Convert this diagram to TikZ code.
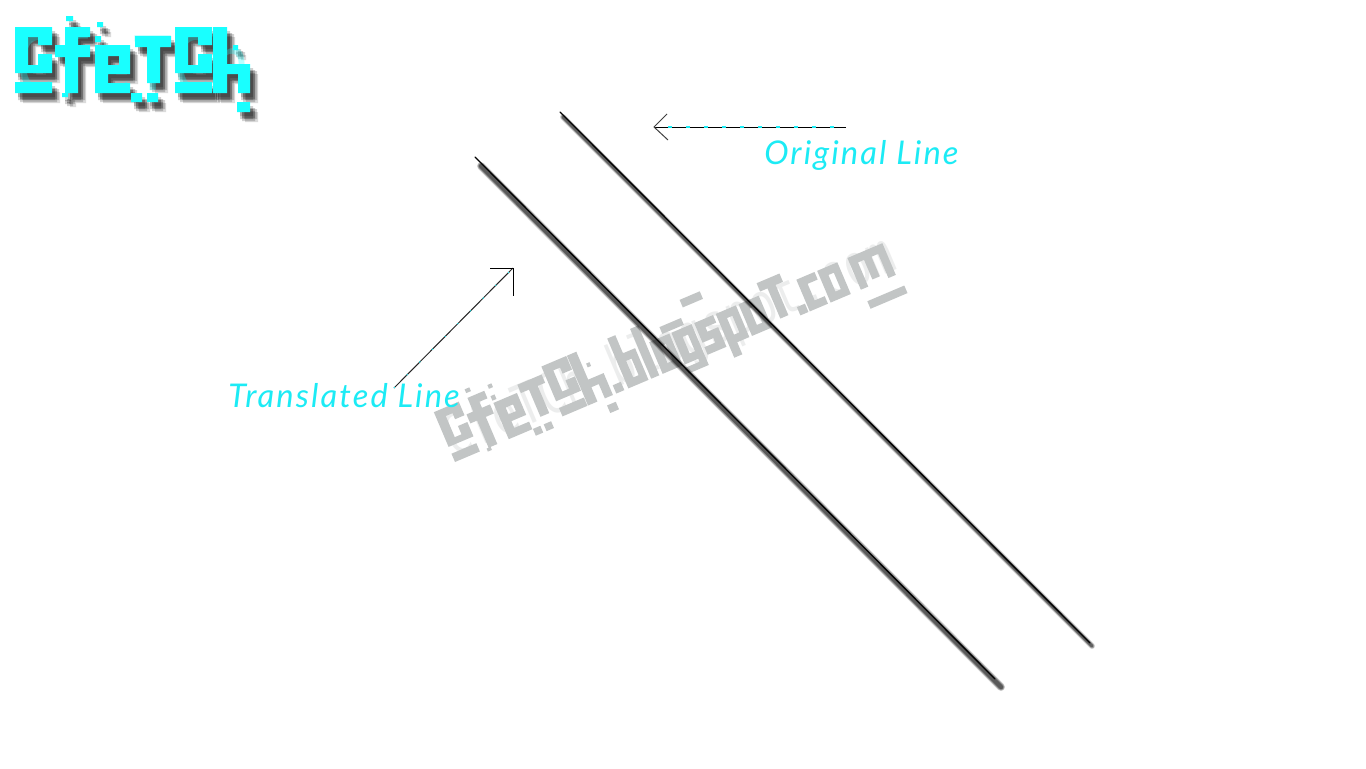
\documentclass[tikz,border=0pt]{standalone}
\usepackage{fontspec}
\setmainfont{Lato}
\newfontfamily\handfont[LetterSpace=6.5]{Lato Italic}
\newfontfamily\blockfont{DejaVu Sans Mono}
\definecolor{logocyan}{HTML}{19FFFF}
\definecolor{labelcyan}{HTML}{1CEBF5}
\definecolor{markgray}{HTML}{C2C5C5}
\tikzset{
  x=0.75pt,y=-0.75pt,
  handlabel/.style={text=labelcyan,font=\handfont\fontsize{24.5}{24.5}\selectfont,inner sep=0,anchor=base west},
  logotext/.style={font=\blockfont\fontsize{49}{49}\selectfont,inner sep=0,anchor=base west,yscale=1.15,transform shape},
  marktext/.style={font=\blockfont\fontsize{43.5}{43.5}\selectfont,inner sep=0,anchor=base west,yscale=1.2,transform shape},
  pointer/.style={draw=black,line width=0.75pt},
  pointerdash/.style={draw=labelcyan,line width=1pt,dash pattern=on 3pt off 10.5pt},
  tickdash/.style={draw=labelcyan,line width=0.6pt,dash pattern=on 1pt off 12.5pt},
  softline/.style={draw=black,line cap=round}
}
% square pixel letter strokes; each takes its horizontal offset, the baseline is y=0
\newcommand\blockrect[5]{(#1+#2,#3) rectangle (#1+#4,#5)}
\newcommand\lkC[1]{\blockrect{#1}{0}{-66}{37}{-56} \blockrect{#1}{0}{-66}{13}{-20} \blockrect{#1}{23}{-66}{37}{-48} \blockrect{#1}{23}{-39}{37}{-20} \blockrect{#1}{0}{-28}{37}{-20} \blockrect{#1}{0}{-11}{37}{0}}
\newcommand\lkf[1]{\blockrect{#1}{10}{-66}{23}{0} \blockrect{#1}{10}{-66}{35}{-56} \blockrect{#1}{0}{-48}{35}{-36}}
\newcommand\lke[1]{\blockrect{#1}{0}{-48}{35}{-37} \blockrect{#1}{0}{-48}{13}{0} \blockrect{#1}{24}{-48}{35}{-19} \blockrect{#1}{0}{-28}{35}{-19} \blockrect{#1}{0}{-10}{35}{0}}
\newcommand\lkT[1]{\blockrect{#1}{0}{-57}{36}{-46} \blockrect{#1}{12}{-46}{25}{-10}}
\newcommand\lkh[1]{\blockrect{#1}{0}{-66}{14}{0} \blockrect{#1}{14}{-29}{37}{-19} \blockrect{#1}{25}{-19}{37}{0}}
\newcommand\logobits{(51,-77) rectangle (58,-72) (82,-71) rectangle (88,-66) (80,-57) rectangle (86,-51) (116,0) rectangle (127,9) (132,0) rectangle (143,9) (222,9) rectangle (235,19) (47,0) rectangle (53,4) (218,-48) rectangle (223,-43)}
\newcommand\logoglyphs{\lkC{0} \lkf{40} \lke{80} \lkT{120} \lkC{160} \lkh{198} \logobits}
% lower-case letters of the tilted site mark
\newcommand\mkdot[1]{\blockrect{#1}{0}{-11}{12}{0}}
\newcommand\mkring[1]{\blockrect{#1}{0}{-42}{30}{-32} \blockrect{#1}{0}{-42}{12}{0} \blockrect{#1}{20}{-42}{30}{0} \blockrect{#1}{0}{-10}{30}{0}}
\newcommand\mkb[1]{\mkring{#1} \blockrect{#1}{0}{-66}{12}{0}}
\newcommand\mkl[1]{\blockrect{#1}{0}{-66}{12}{0}}
\newcommand\mkg[1]{\mkring{#1} \blockrect{#1}{20}{-42}{30}{12} \blockrect{#1}{0}{4}{30}{12} \blockrect{#1}{-12}{-54}{20}{-45}}
\newcommand\mks[1]{\blockrect{#1}{0}{-42}{28}{-32} \blockrect{#1}{0}{-42}{12}{-18} \blockrect{#1}{0}{-26}{28}{-16} \blockrect{#1}{16}{-26}{28}{0} \blockrect{#1}{0}{-10}{28}{0} \blockrect{#1}{-6}{-75}{24}{-65}}
\newcommand\mkp[1]{\mkring{#1} \blockrect{#1}{0}{-42}{12}{16}}
\newcommand\mkT[1]{\blockrect{#1}{0}{-57}{34}{-46} \blockrect{#1}{11}{-46}{23}{-6}}
\newcommand\mkc[1]{\blockrect{#1}{0}{-42}{27}{-32} \blockrect{#1}{0}{-42}{12}{0} \blockrect{#1}{0}{-10}{27}{0}}
\newcommand\mkm[1]{\blockrect{#1}{0}{-42}{52}{-32} \blockrect{#1}{0}{-42}{11}{0} \blockrect{#1}{20}{-42}{31}{-6} \blockrect{#1}{41}{-42}{52}{0} \blockrect{#1}{2}{16}{57}{26}}
\begin{document}
\begin{tikzpicture}
\useasboundingbox[fill=white] (0,0) rectangle (1366,768);

% corner logo with its soft drop shadow
\begin{scope}[shift={(15,93)}]
  \foreach \dx/\dy/\op in {8/10/0.14,7/7/0.18,5/9/0.18,5/6/0.22,3/7/0.18,3/4/0.18}{
    \begin{scope}[shift={(\dx,\dy)}]
      \fill[black,opacity=\op] \logoglyphs;
    \end{scope}
  }
  \fill[logocyan] \logoglyphs;
  \node[logotext,text=logocyan,text opacity=0.3] (logo) at (0,-3) {CfeTCh};
\end{scope}

% tilted site mark
\begin{scope}[shift={(455,462)},rotate=23,xscale=0.73,yscale=0.82]
  \fill[markgray] \lkC{0} \lkf{40} \lke{80} \lkT{120} \lkC{160} \lkh{198} \logobits
    \mkdot{240} \mkb{258} \mkl{292} \mkring{309} \mkg{342} \mks{376} \mkp{408} \mkring{442}
    \mkT{476} \mkdot{514} \mkc{528} \mkring{559} \mkm{604};
  \node[marktext,text=markgray,text opacity=0.3] (mark) at (0,-6) {CfeTCh.blogspot.com};
\end{scope}

% original line
\coordinate (origA) at (560,112);
\coordinate (origB) at (1090,643);
\coordinate (origSa) at (563,117);
\coordinate (origSb) at (1092,646);
\foreach \w/\op in {6/0.16,4.5/0.25,3/0.40}{
  \draw[softline,line width=\w*0.75pt,opacity=\op] (origSa) -- (origSb);
}
\draw[softline,line width=1pt] (origA) -- (origB);

% translated line
\coordinate (tranA) at (475,157);
\coordinate (tranB) at (995,679);
\coordinate (tranSa) at (481,166);
\coordinate (tranSb) at (1001,687);
\foreach \w/\op in {8/0.18,6.5/0.28,4.5/0.40}{
  \draw[softline,line width=\w*0.75pt,opacity=\op] (tranSa) -- (tranSb);
}
\draw[softline,line width=1pt] (tranA) -- (tranB);

% labels
\node[handlabel] (origLabel) at (764,164) {Original Line};
\node[handlabel] (tranLabel) at (228,407) {Translated Line};

% pointer to the original line
\coordinate (origTail) at (846,127);
\coordinate (origDash) at (834,127);
\coordinate (origTip) at (654,127);
\coordinate (origH1) at (667,114);
\coordinate (origH2) at (668,140);
\draw[pointer] (origTail) -- (origTip);
\draw[pointerdash] (origDash) -- (origTip);
\draw[pointer,draw=black!75] (origH1) -- (origTip) -- (origH2);

% pointer to the translated line
\coordinate (tranTail) at (394,388);
\coordinate (tranTip) at (513,268);
\coordinate (tranH1) at (490,268);
\coordinate (tranH2) at (513,296);
\draw[pointer,draw=black!85] (tranTail) -- (tranTip);
\draw[tickdash] (tranTail) -- (tranTip);
\draw[pointer] (tranH1) -- (tranTip) -- (tranH2);
\end{tikzpicture}
\end{document}
